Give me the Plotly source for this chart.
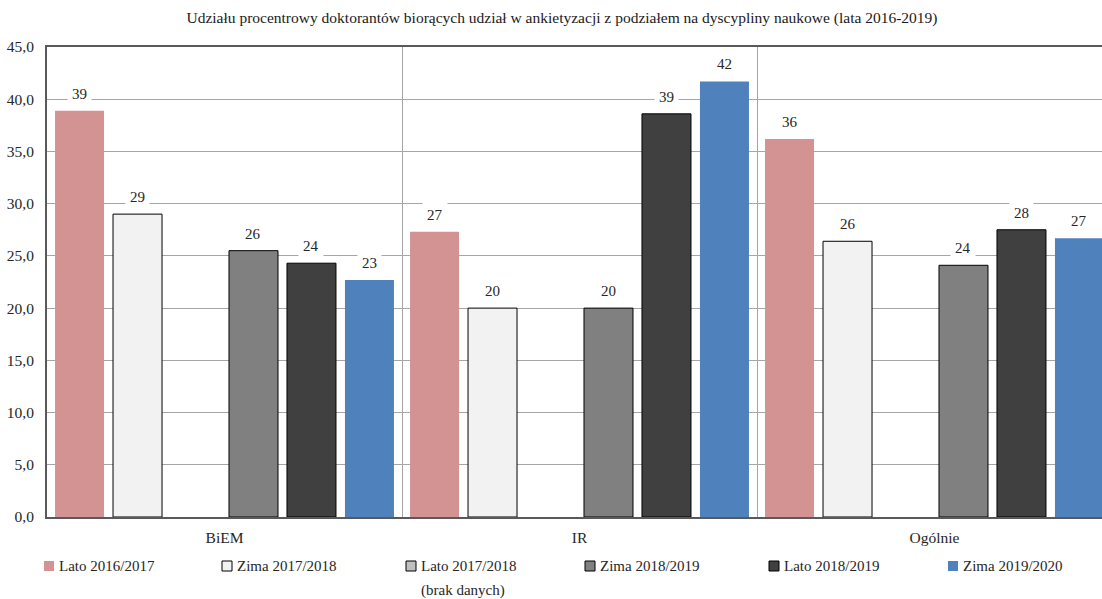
import plotly.graph_objects as go

# ---------------- data ----------------
categories = ["BiEM", "IR", "Ogólnie"]
series_names = ["Lato 2016/2017", "Zima 2017/2018", "Lato 2017/2018", "Zima 2018/2019",
                "Lato 2018/2019", "Zima 2019/2020"]
lato_2016_2017 = [38.9, 27.3, 36.2]
zima_2017_2018 = [29.0, 20.0, 26.4]
lato_2017_2018 = [None, None, None]   # brak danych
zima_2018_2019 = [25.5, 20.0, 24.1]
lato_2018_2019 = [24.3, 38.6, 27.5]
zima_2019_2020 = [22.7, 41.7, 26.7]
y_ticks = [0, 5, 10, 15, 20, 25, 30, 35, 40, 45]

title_text = ("Udziału procentrowy doktorantów biorących udział w ankietyzacji "
              "z podziałem na dyscypliny naukowe (lata 2016-2019)")

# ---------------- styles ----------------
FONT = "Liberation Serif"
TXT = "#262626"
colors = ["#d39393", "#f2f2f2", "#bfbfbf", "#808080", "#404040", "#4f81bd"]
outline = [0, 1, 1, 1, 1, 0]
series = [lato_2016_2017, zima_2017_2018, lato_2017_2018, zima_2018_2019,
          lato_2018_2019, zima_2019_2020]

W, H = 1102, 599
ML, MR, MT, MB = 47, 0, 47, 82
PW, PH = W - ML - MR, H - MT - MB
CAT_PX = 355.0
BARGAP = 0.02
BARGROUPGAP = 0.155
n = len(series)
slot = (1 - BARGAP) / n

fig = go.Figure()
for name, vals, col, lw in zip(series_names, series, colors, outline):
    fig.add_bar(x=categories, y=vals, name=name,
                marker=dict(color=col, line=dict(color="#000000", width=lw)),
                showlegend=False, hoverinfo="skip")

# data labels (white box masks gridlines)
annotations = []
for i, vals in enumerate(series):
    for j, v in enumerate(vals):
        if v is None:
            continue
        annotations.append(dict(
            x=j + (i - (n - 1) / 2) * slot, y=v, xref="x", yref="y",
            text=str(int(round(v))), showarrow=False, yshift=17,
            font=dict(family=FONT, size=15, color=TXT),
            bgcolor="white", borderpad=4))

# manual legend (pixel helpers -> paper coords)
def px(xp):
    return (xp - ML) / PW

def py(yp):
    return (H - MB - yp) / PH

legend_sq_x = [44, 222, 406, 585, 769, 948]
legend_y = 566
shapes = []
for k, (name, col) in enumerate(zip(series_names, colors)):
    x0 = legend_sq_x[k]
    lc = col if outline[k] == 0 else "#000000"
    shapes.append(dict(type="rect", xref="paper", yref="paper",
                       x0=px(x0), x1=px(x0 + 10), y0=py(legend_y + 5), y1=py(legend_y - 5),
                       fillcolor=col, line=dict(color=lc, width=1 if outline[k] else 0)))
    annotations.append(dict(x=px(x0 + 13), y=py(legend_y), xref="paper", yref="paper",
                            xanchor="left", yanchor="middle", showarrow=False, text=name,
                            font=dict(family=FONT, size=15, color=TXT)))
annotations.append(dict(x=px(419), y=py(590), xref="paper", yref="paper",
                        xanchor="left", yanchor="middle", showarrow=False,
                        text="(brak danych)", font=dict(family=FONT, size=15, color=TXT)))

fig.update_layout(
    width=W, height=H,
    margin=dict(l=ML, r=MR, t=MT, b=MB),
    paper_bgcolor="white", plot_bgcolor="white",
    barmode="group", bargap=BARGAP, bargroupgap=BARGROUPGAP,
    separators=", ",
    font=dict(family=FONT, size=15, color=TXT),
    title=dict(text=title_text, x=(562 - ML) / PW, xref="paper", xanchor="center",
               y=1 - 18 / H, yanchor="middle",
               font=dict(family=FONT, size=15.5, color="#1a1a1a")),
    xaxis=dict(range=[-0.5, -0.5 + PW / CAT_PX], tickson="boundaries", showgrid=True,
               gridcolor="#a6a6a6", gridwidth=1, showline=True, linecolor="#595959",
               linewidth=2, mirror=True, ticks="", ticklabelstandoff=5,
               tickfont=dict(family=FONT, size=15.5, color=TXT), fixedrange=True),
    yaxis=dict(range=[0, 45], tickvals=y_ticks, tickformat=".1f", showgrid=True,
               gridcolor="#a6a6a6", gridwidth=1, showline=True, linecolor="#595959",
               linewidth=2, zeroline=False, ticks="", ticklabelstandoff=8,
               tickfont=dict(family=FONT, size=15.5, color=TXT), fixedrange=True),
    annotations=annotations,
    shapes=shapes,
)

fig.write_html("out.html", post_script="document.body.style.margin='0';",
               config={"displayModeBar": False})
